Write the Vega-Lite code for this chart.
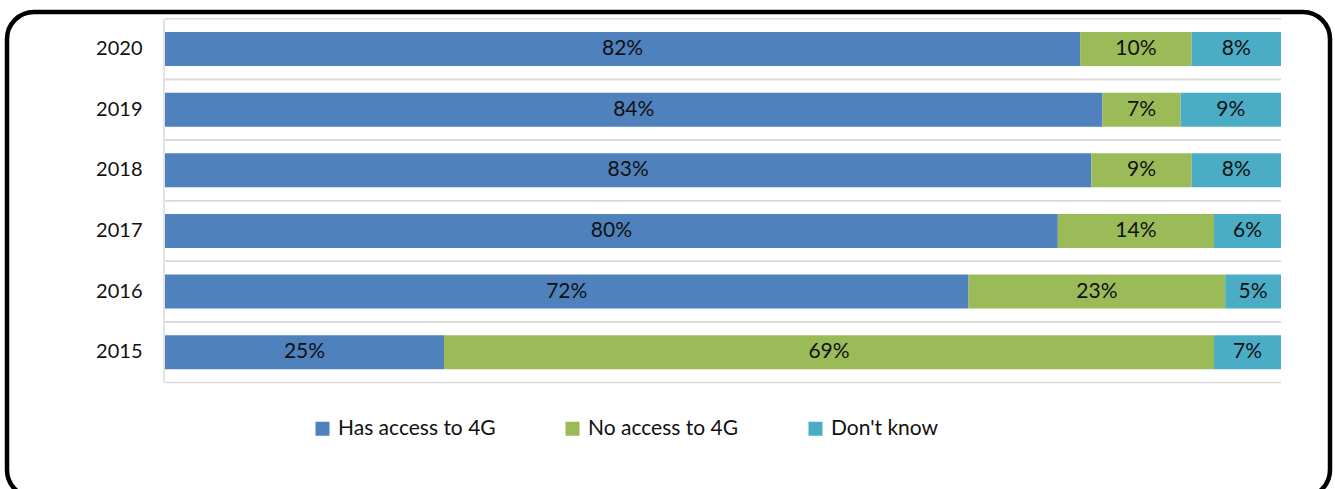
{
  "$schema": "https://vega.github.io/schema/vega-lite/v6.json",
  "width": 1323,
  "height": 485,
  "autosize": {"type": "none"},
  "padding": {"left": 7, "top": 12, "right": 5, "bottom": -8},
  "background": "white",
  "config": {
    "view": {"stroke": "#000000", "strokeWidth": 4.5, "cornerRadius": 27, "fill": "white"},
    "font": "Lato"
  },
  "datasets": {
    "years": [
      {"year": "2020"}, {"year": "2019"}, {"year": "2018"},
      {"year": "2017"}, {"year": "2016"}, {"year": "2015"}
    ],
    "main": [
      {"year": "2020", "series": "Has access to 4G", "k": 1, "value": 0.82, "label": "82%"},
      {"year": "2020", "series": "No access to 4G", "k": 2, "value": 0.10, "label": "10%"},
      {"year": "2020", "series": "Don't know", "k": 3, "value": 0.08, "label": "8%"},
      {"year": "2019", "series": "Has access to 4G", "k": 1, "value": 0.84, "label": "84%"},
      {"year": "2019", "series": "No access to 4G", "k": 2, "value": 0.07, "label": "7%"},
      {"year": "2019", "series": "Don't know", "k": 3, "value": 0.09, "label": "9%"},
      {"year": "2018", "series": "Has access to 4G", "k": 1, "value": 0.83, "label": "83%"},
      {"year": "2018", "series": "No access to 4G", "k": 2, "value": 0.09, "label": "9%"},
      {"year": "2018", "series": "Don't know", "k": 3, "value": 0.08, "label": "8%"},
      {"year": "2017", "series": "Has access to 4G", "k": 1, "value": 0.80, "label": "80%"},
      {"year": "2017", "series": "No access to 4G", "k": 2, "value": 0.14, "label": "14%"},
      {"year": "2017", "series": "Don't know", "k": 3, "value": 0.06, "label": "6%"},
      {"year": "2016", "series": "Has access to 4G", "k": 1, "value": 0.72, "label": "72%"},
      {"year": "2016", "series": "No access to 4G", "k": 2, "value": 0.23, "label": "23%"},
      {"year": "2016", "series": "Don't know", "k": 3, "value": 0.05, "label": "5%"},
      {"year": "2015", "series": "Has access to 4G", "k": 1, "value": 0.25, "label": "25%"},
      {"year": "2015", "series": "No access to 4G", "k": 2, "value": 0.69, "label": "69%"},
      {"year": "2015", "series": "Don't know", "k": 3, "value": 0.06, "label": "7%"}
    ]
  },
  "layer": [
    {
      "data": {"name": "years"},
      "mark": {"type": "rule", "color": "#d9d9d9", "strokeWidth": 1.5},
      "encoding": {
        "y": {
          "field": "year", "type": "nominal", "bandPosition": 0,
          "scale": {"domain": ["2020", "2019", "2018", "2017", "2016", "2015"], "paddingInner": 0, "paddingOuter": 1.0416667, "align": 0.056, "round": false},
          "axis": {"orient": "left", "offset": -157, "domain": false, "ticks": false, "grid": false, "labelPadding": 22, "labelFontSize": 20, "labelFont": "Lato", "labelColor": "#111111", "title": null}
        },
        "x": {"datum": 0, "type": "quantitative", "scale": {"domain": [-0.141577, 1.043907], "nice": false, "zero": false}, "axis": null},
        "x2": {"datum": 1}
      }
    },
    {
      "data": {"name": "years"},
      "mark": {"type": "rule", "color": "#d9d9d9", "strokeWidth": 1.5},
      "encoding": {
        "y": {"field": "year", "type": "nominal", "bandPosition": 1},
        "x": {"datum": 0, "type": "quantitative"},
        "x2": {"datum": 1}
      }
    },
    {
      "data": {"name": "years"},
      "mark": {"type": "rule", "color": "#d9d9d9", "strokeWidth": 1.5},
      "encoding": {
        "y": {"field": "year", "type": "nominal", "bandPosition": 0},
        "y2": {"field": "year", "bandPosition": 1},
        "x": {"datum": -0.0009, "type": "quantitative"}
      }
    },
    {
      "data": {"name": "main"},
      "mark": {"type": "bar", "size": 34},
      "encoding": {
        "y": {"field": "year", "type": "nominal"},
        "x": {"field": "value", "type": "quantitative", "stack": "zero"},
        "order": {"field": "k", "type": "quantitative"},
        "color": {
          "field": "series", "type": "nominal",
          "scale": {"domain": ["Has access to 4G", "No access to 4G", "Don't know"], "range": ["#4F81BD", "#9BBB59", "#4BACC6"]},
          "legend": {"orient": "none", "legendX": 305, "legendY": 406, "direction": "horizontal", "title": null, "symbolType": "square", "symbolSize": 196, "symbolStrokeWidth": 0, "labelFontSize": 21, "labelFont": "Lato", "labelColor": "#111111", "labelOffset": 5, "labelLimit": 300, "columnPadding": 66, "padding": 0}
        }
      }
    },
    {
      "data": {"name": "main"},
      "mark": {"type": "text", "font": "Lato", "fontSize": 21, "color": "#111111", "align": "center", "baseline": "middle"},
      "encoding": {
        "y": {"field": "year", "type": "nominal"},
        "x": {"field": "value", "type": "quantitative", "stack": "zero", "bandPosition": 0.5},
        "detail": {"field": "series", "type": "nominal"},
        "order": {"field": "k", "type": "quantitative"},
        "text": {"field": "label", "type": "nominal"}
      }
    }
  ]
}
